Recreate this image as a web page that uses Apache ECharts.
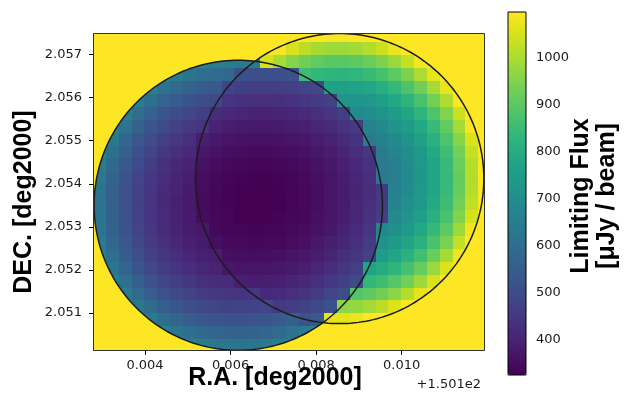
<!DOCTYPE html>
<html><head><meta charset="utf-8">
<script src="https://cdn.jsdelivr.net/npm/echarts@6/dist/echarts.min.js"></script>
<style>html,body{margin:0;padding:0;background:#fff}#c{width:624px;height:401px}</style>
</head><body><div id="c"></div>
<script>
const _ = null;
// R.A. cell centres (offset from 150.1 deg) and DEC cell centres (deg)
const raCenters = [0.00295,0.00325,0.00355,0.00385,0.00415,0.00445,0.00475,0.00505,0.00535,0.00565,0.00595,0.00625,0.00655,0.00685,0.00715,0.00745,0.00775,0.00805,0.00835,0.00865,0.00895,0.00925,0.00955,0.00985,0.01015,0.01045,0.01075,0.01105,0.01135,0.01165,0.01195];
const decCenters = [2.05025,2.05055,2.05085,2.05115,2.05145,2.05175,2.05205,2.05235,2.05265,2.05295,2.05325,2.05355,2.05385,2.05415,2.05445,2.05475,2.05505,2.05535,2.05565,2.05595,2.05625,2.05655,2.05685,2.05715,2.05745];
// Limiting flux [uJy/beam], one row per DEC centre (bottom to top); _ = no coverage
const fluxRows = [
[_,_,_,_,_,_,693,665,645,630,623,621,626,636,653,677,709,_,_,_,_,_,_,_,_,_,_,_,_,_,_],
[_,_,_,_,701,660,627,602,583,570,564,562,566,576,591,613,642,678,1098,1098,1098,_,_,_,_,_,_,_,_,_,_],
[_,_,_,687,641,603,573,550,533,521,515,514,517,526,540,560,518,538,1069,1067,1076,1095,1098,1098,1098,_,_,_,_,_,_],
[_,_,687,634,591,556,529,507,492,481,475,474,477,485,452,462,475,493,516,965,972,990,1017,1056,1098,1098,1098,_,_,_,_],
[_,700,640,591,551,518,493,473,458,448,442,441,445,414,419,428,441,457,478,503,888,904,929,964,1010,1069,1098,1098,_,_,_],
[_,658,602,556,518,487,463,445,431,421,416,387,386,388,393,401,413,428,447,470,498,833,856,889,931,985,1053,1098,1098,_,_],
[691,625,572,528,492,463,440,422,409,400,371,367,366,367,372,379,390,404,422,443,469,776,797,827,867,917,980,1057,1098,1098,_],
[662,600,548,506,472,444,422,405,392,384,355,351,349,351,355,362,372,385,402,422,446,475,749,778,815,862,921,994,1082,1098,_],
[641,581,531,490,457,430,408,392,380,351,343,339,337,338,342,349,358,371,387,406,429,456,711,738,773,818,874,943,1027,1098,1098],
[627,568,519,479,447,420,399,383,371,342,335,330,329,330,333,340,349,360,375,394,416,442,682,707,741,784,838,904,985,1083,1098],
[619,560,512,473,441,415,394,378,347,337,330,325,324,324,328,334,342,354,368,386,407,433,463,684,717,759,811,874,953,1048,1098],
[617,558,511,471,439,413,393,377,345,335,328,324,324,324,325,331,339,350,364,382,403,427,457,669,701,741,792,854,931,1024,1098],
[621,562,514,474,442,416,396,380,347,336,329,324,324,324,326,331,339,350,364,381,402,426,455,660,691,731,781,843,918,1010,1098],
[631,571,522,482,449,423,402,386,352,341,333,328,326,326,329,335,343,354,367,384,405,429,633,657,688,728,778,840,915,1006,1098],
[647,586,536,495,461,434,412,396,360,349,341,336,333,333,336,342,350,360,374,391,411,436,637,661,692,733,783,844,920,1011,1098],
[671,607,555,513,478,450,427,410,372,360,352,347,344,344,347,352,360,371,385,402,422,447,647,671,703,744,795,857,934,1027,1098],
[702,635,581,536,500,470,447,429,388,376,367,361,358,358,361,366,374,385,399,417,438,645,663,688,721,763,815,880,958,1054,1098],
[_,671,614,566,528,497,472,453,439,396,386,380,377,377,379,384,393,404,418,436,458,668,687,713,747,790,844,911,992,1091,1098],
[_,716,655,604,563,530,504,483,468,421,411,404,400,400,402,407,416,427,442,461,686,699,718,745,781,826,882,952,1037,1098,1098],
[_,_,705,651,607,571,543,521,504,493,441,433,429,428,431,436,445,457,472,719,725,737,758,787,824,872,932,1005,1095,1098,_],
[_,_,_,708,660,621,590,566,549,537,478,469,464,463,465,471,480,493,767,766,772,786,808,839,879,930,993,1072,1098,1098,_],
[_,_,_,_,724,682,648,622,602,589,582,513,507,506,508,514,853,835,826,825,831,846,870,903,946,1001,1069,1098,1098,_,_],
[_,_,_,_,_,_,_,689,668,653,645,644,648,1046,995,956,927,908,898,896,903,920,945,981,1028,1087,1098,1098,_,_,_],
[_,_,_,_,_,_,_,_,_,_,_,_,_,1098,1092,1049,1017,996,985,984,991,1009,1037,1076,1098,1098,_,_,_,_,_],
[_,_,_,_,_,_,_,_,_,_,_,_,_,_,_,1098,1098,1098,1091,1090,1098,1098,1098,_,_,_,_,_,_,_,_]
];
// Pointings (field of view outlines): ra offset, dec, radius in deg
const pointingRa = [0.00618, 0.00855];
const pointingDec = [2.05350, 2.05412];
const pointingRadius = [0.00337, 0.00337];
const raTicks = [0.004, 0.006, 0.008, 0.010];
const decTicks = [2.051, 2.052, 2.053, 2.054, 2.055, 2.056, 2.057];
const fluxTicks = [400, 500, 600, 700, 800, 900, 1000];
const raRange = [0.002808, 0.011924];
const decRange = [2.050137, 2.05748];
const fluxRange = [324, 1098];

const viridis = ['#440154','#471365','#482475','#463480','#414487','#3b528b','#355f8d','#2f6c8e','#2a788e','#25848e','#21918c','#1e9c89','#22a884','#2fb47c','#44bf70','#5ec962','#7ad151','#9bd93c','#bddf26','#dfe318','#fde725'];
const YELLOW = '#fde725';

const cells = [];
fluxRows.forEach((row, j) => row.forEach((v, i) => { if (v !== null) cells.push([raCenters[i], decCenters[j], v]); }));
const halfW = (raCenters[1] - raCenters[0]) / 2;
const halfH = (decCenters[1] - decCenters[0]) / 2;

const pointings = pointingRa.map((ra, k) => ({ ra: ra, dec: pointingDec[k], radius: pointingRadius[k] }));
function arcPoints(c, a0, a1, n) {
  const pts = [];
  for (let k = 0; k <= n; k++) { const t = a0 + (a1 - a0) * k / n; pts.push([c.ra + c.radius * Math.cos(t), c.dec + c.radius * Math.sin(t)]); }
  return pts;
}
function circleIntersections(c1, c2) {
  const dx = c2.ra - c1.ra, dy = c2.dec - c1.dec, d = Math.hypot(dx, dy);
  const a = (c1.radius * c1.radius - c2.radius * c2.radius + d * d) / (2 * d);
  const h = Math.sqrt(c1.radius * c1.radius - a * a);
  const mx = c1.ra + a * dx / d, my = c1.dec + a * dy / d;
  const p = [mx - h * dy / d, my + h * dx / d], q = [mx + h * dy / d, my - h * dx / d];
  return p[1] > q[1] ? [p, q] : [q, p];
}
const L = pointings[0], R = pointings[1];
const [pTop, pBot] = circleIntersections(L, R);
const ang = (c, p) => Math.atan2(p[1] - c.dec, p[0] - c.ra);
let bBot = ang(L, pBot); while (bBot < Math.PI) bBot += 2 * Math.PI;
const bTop = ang(L, pTop);
const aBot = ang(R, pBot); let aTop = ang(R, pTop); while (aTop < aBot) aTop += 2 * Math.PI;
const unionOutline = [].concat(arcPoints(L, Math.PI, bBot, 90), arcPoints(R, aBot, aTop, 180), arcPoints(L, bTop, Math.PI, 60));

const tickFont = { color: '#1a1a1a', fontSize: 13, fontFamily: 'DejaVu Sans' };
const titleFont = 'bold 25px "Liberation Sans"';

const chart = echarts.init(document.getElementById('c'), null, { renderer: 'canvas', width: 624, height: 401 });
chart.setOption({
  animation: false,
  backgroundColor: '#ffffff',
  grid: [
    { left: 94, top: 34, width: 390, height: 316, show: true, backgroundColor: YELLOW, borderWidth: 0 },
    { left: 508, top: 12, width: 18, height: 363, show: true, backgroundColor: 'transparent', borderColor: '#000', borderWidth: 1, z: 10 }
  ],
  xAxis: [
    { type: 'value', gridIndex: 0, min: raRange[0], max: raRange[1],
      axisLine: { show: true, onZero: false, lineStyle: { color: '#000' } },
      axisTick: { show: true, length: 5, customValues: raTicks, lineStyle: { color: '#000' } },
      axisLabel: Object.assign({ customValues: raTicks, margin: 9, formatter: v => v.toFixed(3) }, tickFont),
      splitLine: { show: false } },
    { type: 'value', gridIndex: 1, show: false, min: 0, max: 1 }
  ],
  yAxis: [
    { type: 'value', gridIndex: 0, min: decRange[0], max: decRange[1],
      axisLine: { show: true, onZero: false, lineStyle: { color: '#000' } },
      axisTick: { show: true, length: 5, customValues: decTicks, lineStyle: { color: '#000' } },
      axisLabel: Object.assign({ customValues: decTicks, margin: 12, formatter: v => v.toFixed(3) }, tickFont),
      splitLine: { show: false } },
    { type: 'value', gridIndex: 1, position: 'right', min: fluxRange[0], max: fluxRange[1],
      axisLine: { show: false },
      axisTick: { show: true, length: 5, customValues: fluxTicks, lineStyle: { color: '#000' } },
      axisLabel: Object.assign({ customValues: fluxTicks, margin: 10, formatter: v => String(Math.round(v)) }, tickFont),
      splitLine: { show: false } }
  ],
  visualMap: {
    type: 'continuous', seriesIndex: 0, dimension: 2, min: fluxRange[0], max: fluxRange[1],
    inRange: { color: viridis }, orient: 'vertical', left: 508, top: 12, itemWidth: 18, itemHeight: 363,
    calculable: false, hoverLink: false, padding: 0, z: 4
  },
  graphic: [
    { type: 'text', x: 275, y: 378, style: { text: 'R.A. [deg2000]', font: titleFont, fill: '#000', align: 'center', verticalAlign: 'middle', textAlign: 'center', textVerticalAlign: 'middle' } },
    { type: 'text', x: 24, y: 202, rotation: Math.PI / 2, style: { text: 'DEC. [deg2000]', font: titleFont, fill: '#000', align: 'center', verticalAlign: 'middle', textAlign: 'center', textVerticalAlign: 'middle' } },
    { type: 'text', x: 581, y: 196, rotation: Math.PI / 2, style: { text: 'Limiting Flux', font: titleFont, fill: '#000', align: 'center', verticalAlign: 'middle', textAlign: 'center', textVerticalAlign: 'middle' } },
    { type: 'text', x: 607, y: 196, rotation: Math.PI / 2, style: { text: '[μJy / beam]', font: titleFont, fill: '#000', align: 'center', verticalAlign: 'middle', textAlign: 'center', textVerticalAlign: 'middle' } },
    { type: 'text', x: 481, y: 385, style: { text: '+1.501e2', font: '13px "DejaVu Sans"', fill: '#1a1a1a', align: 'right', verticalAlign: 'middle', textAlign: 'right', textVerticalAlign: 'middle' } }
  ],
  series: [
    { type: 'custom', name: 'flux', coordinateSystem: 'cartesian2d', xAxisIndex: 0, yAxisIndex: 0,
      data: cells, dimensions: ['ra', 'dec', 'flux'], encode: { x: 0, y: 1 }, clip: true, silent: true, z: 2,
      renderItem: function (params, api) {
        const x = api.value(0), y = api.value(1);
        const a = api.coord([x - halfW, y + halfH]), b = api.coord([x + halfW, y - halfH]);
        const x0 = Math.floor(a[0]), y0 = Math.floor(a[1]), x1 = Math.ceil(b[0]), y1 = Math.ceil(b[1]);
        return { type: 'rect', shape: { x: x0, y: y0, width: x1 - x0, height: y1 - y0 }, style: { fill: api.visual('color') } };
      } },
    { type: 'custom', name: 'mask', coordinateSystem: 'cartesian2d', xAxisIndex: 0, yAxisIndex: 0,
      data: [[L.ra, L.dec]], clip: true, silent: true, z: 3,
      renderItem: function (params, api) {
        const cs = params.coordSys;
        const pts = unionOutline.map(p => api.coord(p));
        const x0 = cs.x - 2, y0 = cs.y - 2, x1 = cs.x + cs.width + 2, y1 = cs.y + cs.height + 2;
        const s = [x0, pts[0][1]];
        const poly = [s, [x0, y0], [x1, y0], [x1, y1], [x0, y1], s].concat(pts, [pts[0], s]);
        return { type: 'polygon', shape: { points: poly }, style: { fill: YELLOW, stroke: null } };
      } },
    { type: 'custom', name: 'pointings', coordinateSystem: 'cartesian2d', xAxisIndex: 0, yAxisIndex: 0,
      data: pointings.map(c => [c.ra, c.dec, c.radius]), clip: true, silent: true, z: 4,
      renderItem: function (params, api) {
        const c = { ra: api.value(0), dec: api.value(1), radius: api.value(2) };
        const pts = arcPoints(c, 0, 2 * Math.PI, 240).map(p => api.coord(p));
        return { type: 'polygon', shape: { points: pts }, style: { fill: 'none', stroke: '#1c1c1c', lineWidth: 1.5 } };
      } },
    { type: 'custom', name: 'frame', coordinateSystem: 'cartesian2d', xAxisIndex: 0, yAxisIndex: 0,
      data: [[L.ra, L.dec]], clip: false, silent: true, z: 5,
      renderItem: function (params, api) {
        const cs = params.coordSys;
        return { type: 'rect', shape: { x: cs.x - 0.5, y: cs.y - 0.5, width: cs.width + 1, height: cs.height + 1 }, style: { fill: 'none', stroke: '#333', lineWidth: 1 } };
      } }
  ]
});
</script>
</body></html>
